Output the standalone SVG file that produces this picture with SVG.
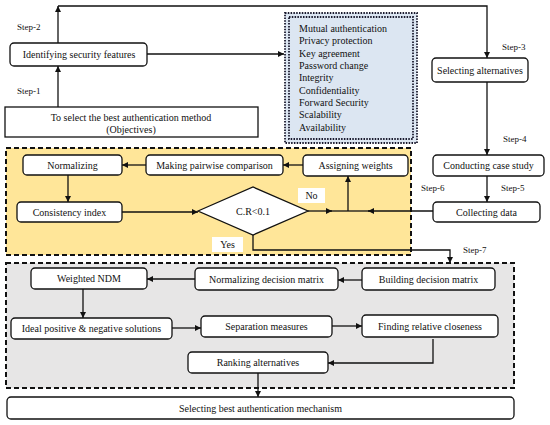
<svg xmlns="http://www.w3.org/2000/svg" width="550" height="425" viewBox="0 0 550 425">
<style>
text{font-family:"Liberation Serif","Times New Roman",serif;font-size:10px;fill:#111}
.c{text-anchor:middle}
.s{font-size:9px}
.box{fill:#fff;stroke:#111;stroke-width:1.3}
.ln{fill:none;stroke:#111;stroke-width:1.3}
.arr{fill:none;stroke:#111;stroke-width:1.3;marker-end:url(#ah)}
.dash{stroke:#111;stroke-width:2;stroke-dasharray:5,3}
.dot{fill:none;stroke:#1a1a2e;stroke-width:1.8;stroke-dasharray:1.5,1.3}
</style>
<defs>
<marker id="ah" markerUnits="userSpaceOnUse" markerWidth="7" markerHeight="7" refX="6" refY="3" orient="auto">
<path d="M0,0 L6,3 L0,6 z" fill="#111"/>
</marker>
</defs>
<rect width="550" height="425" fill="#fff"/>

<g id="containers">
<rect x="6" y="148" width="405" height="107" fill="#ffe699" class="dash"/>
<rect x="6" y="263" width="508" height="125" fill="#e7e6e6" class="dash"/>
</g>

<g id="connectors">
<path class="arr" d="M58,107 L58,66"/>
<path class="arr" d="M58,43 L58,6"/>
<path class="arr" d="M58,6 L487,6 L487,58"/>
<path class="arr" d="M147,54 L284,54"/>
<path class="arr" d="M487,82 L487,155"/>
<path class="arr" d="M487,176 L487,202"/>
<path class="arr" d="M433,211 L368,211"/>
<path class="ln" d="M370,211 L348,211"/>
<path class="arr" d="M308,211 L332,211"/>
<path class="ln" d="M330,211 L348,211"/>
<path class="arr" d="M348,211 L348,176"/>
<path class="arr" d="M303,165 L283,165"/>
<path class="arr" d="M146,165 L122,165"/>
<path class="arr" d="M68,175 L68,202"/>
<path class="arr" d="M122,212 L198,212"/>
<path class="arr" d="M253,235 L253,250 L450,250 L450,263"/>
<path class="arr" d="M362,280 L338,280"/>
<path class="arr" d="M195,279 L147,279"/>
<path class="arr" d="M83,289 L83,318"/>
<path class="arr" d="M172,328 L201,328"/>
<path class="arr" d="M332,326 L362,326"/>
<path class="arr" d="M433,339 L433,363 L328,363"/>
<path class="arr" d="M258,373 L258,397"/>
</g>

<g id="step-labels">
<text class="s" x="17" y="30">Step-2</text>
<text class="s" x="17" y="94">Step-1</text>
<text class="s" x="502" y="50">Step-3</text>
<text class="s" x="503" y="142">Step-4</text>
<text class="s" x="501" y="191">Step-5</text>
<text class="s" x="421" y="191">Step-6</text>
<text class="s" x="463" y="253">Step-7</text>
</g>

<g id="objectives">
<rect class="box" x="5" y="107" width="253" height="30"/>
<text class="c" x="131" y="121">To select the best authentication method</text>
<text class="c" x="131" y="133">(Objectives)</text>
</g>
<g id="identifying">
<rect class="box" x="10" y="43" width="137" height="23" rx="4"/>
<text class="c" x="79" y="58">Identifying security features</text>
</g>
<g id="features">
<rect x="285" y="13" width="132" height="130" fill="#dce6f2"/>
<rect class="dot" x="285" y="13" width="132" height="130"/>
<rect class="dot" x="289" y="17" width="124" height="122"/>
<text x="299" y="32">Mutual authentication</text>
<text x="299" y="44">Privacy protection</text>
<text x="299" y="56.5">Key agreement</text>
<text x="299" y="69">Password change</text>
<text x="299" y="81">Integrity</text>
<text x="299" y="93.5">Confidentiality</text>
<text x="299" y="106">Forward Security</text>
<text x="299" y="118">Scalability</text>
<text x="299" y="130.5">Availability</text>
</g>
<g id="selecting-alternatives">
<rect class="box" x="432" y="58" width="96" height="24" rx="4"/>
<text class="c" x="480" y="73.5">Selecting alternatives</text>
</g>
<g id="case-study">
<rect class="box" x="433" y="155" width="111" height="21" rx="4"/>
<text class="c" x="488.5" y="169">Conducting case study</text>
</g>
<g id="collecting">
<rect class="box" x="433" y="202" width="107" height="20" rx="4"/>
<text class="c" x="486.5" y="215.5">Collecting data</text>
</g>
<g id="assigning">
<rect class="box" x="303" y="155" width="105" height="21" rx="4"/>
<text class="c" x="355.5" y="169">Assigning weights</text>
</g>
<g id="pairwise">
<rect class="box" x="146" y="155" width="137" height="20" rx="4"/>
<text class="c" x="214.5" y="168.5">Making pairwise comparison</text>
</g>
<g id="normalizing">
<rect class="box" x="23" y="155" width="99" height="20" rx="4"/>
<text class="c" x="72.5" y="168.5">Normalizing</text>
</g>
<g id="consistency">
<rect class="box" x="17" y="202" width="105" height="20" rx="4"/>
<text class="c" x="69.5" y="215.5">Consistency index</text>
</g>
<g id="decision">
<polygon class="box" points="198,211 253,187 308,211 253,235"/>
<text class="c" x="253" y="214.5">C.R&lt;0.1</text>
</g>
<g id="no-label">
<rect x="298" y="188" width="27" height="15" fill="#fff"/>
<text class="c" x="311.5" y="199">No</text>
</g>
<g id="yes-label">
<rect x="212" y="237" width="31" height="15" fill="#fff"/>
<text class="c" x="227.5" y="248">Yes</text>
</g>
<g id="building">
<rect class="box" x="362" y="268" width="133" height="22" rx="4"/>
<text class="c" x="428.5" y="282.5">Building decision matrix</text>
</g>
<g id="normalizing-dm">
<rect class="box" x="195" y="268" width="143" height="22" rx="4"/>
<text class="c" x="266.5" y="282.5">Normalizing decision matrix</text>
</g>
<g id="weighted">
<rect class="box" x="31" y="268" width="116" height="21" rx="4"/>
<text class="c" x="89" y="282">Weighted NDM</text>
</g>
<g id="ideal">
<rect class="box" x="11" y="318" width="161" height="21" rx="4"/>
<text class="c" x="91.5" y="332">Ideal positive &amp; negative solutions</text>
</g>
<g id="separation">
<rect class="box" x="201" y="316" width="131" height="21" rx="4"/>
<text class="c" x="266.5" y="330">Separation measures</text>
</g>
<g id="closeness">
<rect class="box" x="362" y="315" width="136" height="22" rx="4"/>
<text class="c" x="430" y="329.5">Finding relative closeness</text>
</g>
<g id="ranking">
<rect class="box" x="188" y="352" width="140" height="21" rx="4"/>
<text class="c" x="258" y="366">Ranking alternatives</text>
</g>
<g id="selecting-best">
<rect class="box" x="7" y="397" width="507" height="22" rx="4"/>
<text class="c" x="260.5" y="411.5">Selecting best authentication mechanism</text>
</g>
</svg>
